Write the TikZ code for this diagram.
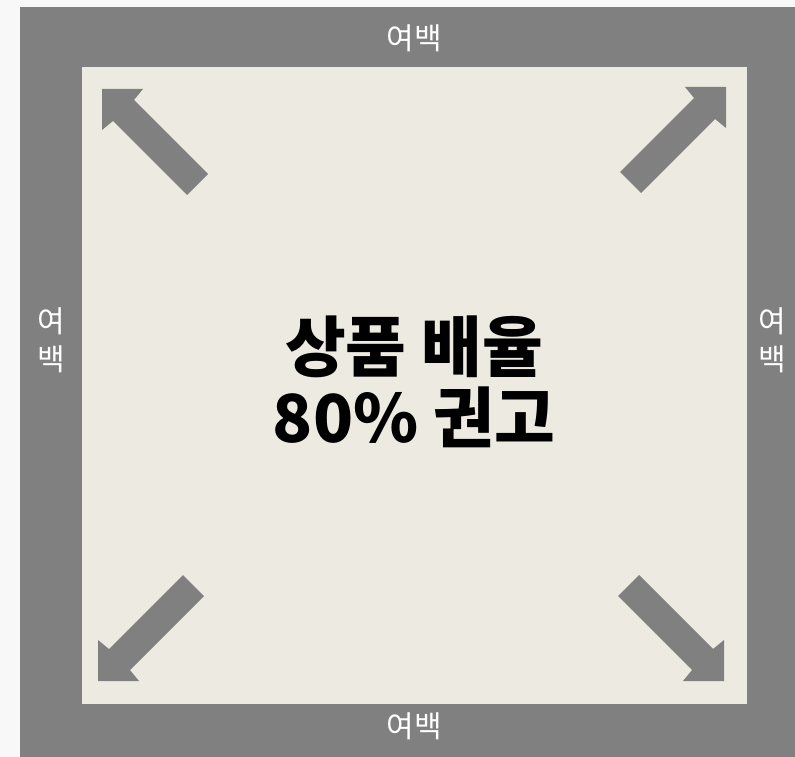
\documentclass[tikz,border=0pt]{standalone}
\usepackage{fontspec}
\newfontfamily\cjk{Noto Sans CJK KR}
\usetikzlibrary{positioning}
\definecolor{rand}{HTML}{808080}
\definecolor{papier}{HTML}{EDEBE1}
\definecolor{hinter}{HTML}{F8F8F8}
\tikzset{
  marge/.style={text=white,font=\cjk\fontsize{30}{38}\selectfont,align=center,inner sep=0pt},
  pfeil/.style={fill=rand}
}
\begin{document}
\begin{tikzpicture}[x=1pt,y=-1pt]
\useasboundingbox (0,0) rectangle (795,757);
\fill[hinter] (0,0) rectangle (795,757);

% grauer rand
\fill[rand] (20,7) rectangle (795,757);
% innere flaeche
\fill[papier] (82,67) rectangle (747,704);

% pfeile in die ecken
\foreach \px/\py/\sx/\sy in {102/89/1/1, 726/87/-1/1, 98/681/1/-1, 724/681/-1/-1}{
  \begin{scope}[shift={(\px,\py)},xscale=\sx,yscale=\sy]
    \fill[pfeil] (0,0) -- (41,0) -- (32,11) -- (106,85) -- (85,106) -- (11,32) -- (0,41) -- cycle;
  \end{scope}
}

\node[marge] (oben) at (414,38) {여백};
\node[marge] (unten) at (414,726) {여백};
\node[marge] (links) at (51,340) {여\\백};
\node[marge] (rechts) at (772,340) {여\\백};

\node[font=\cjk\bfseries\fontsize{66}{71}\selectfont,align=center,inner sep=0pt] (mitte) at (414,382) {상품 배율\\80\% 권고};

\end{tikzpicture}
\end{document}
